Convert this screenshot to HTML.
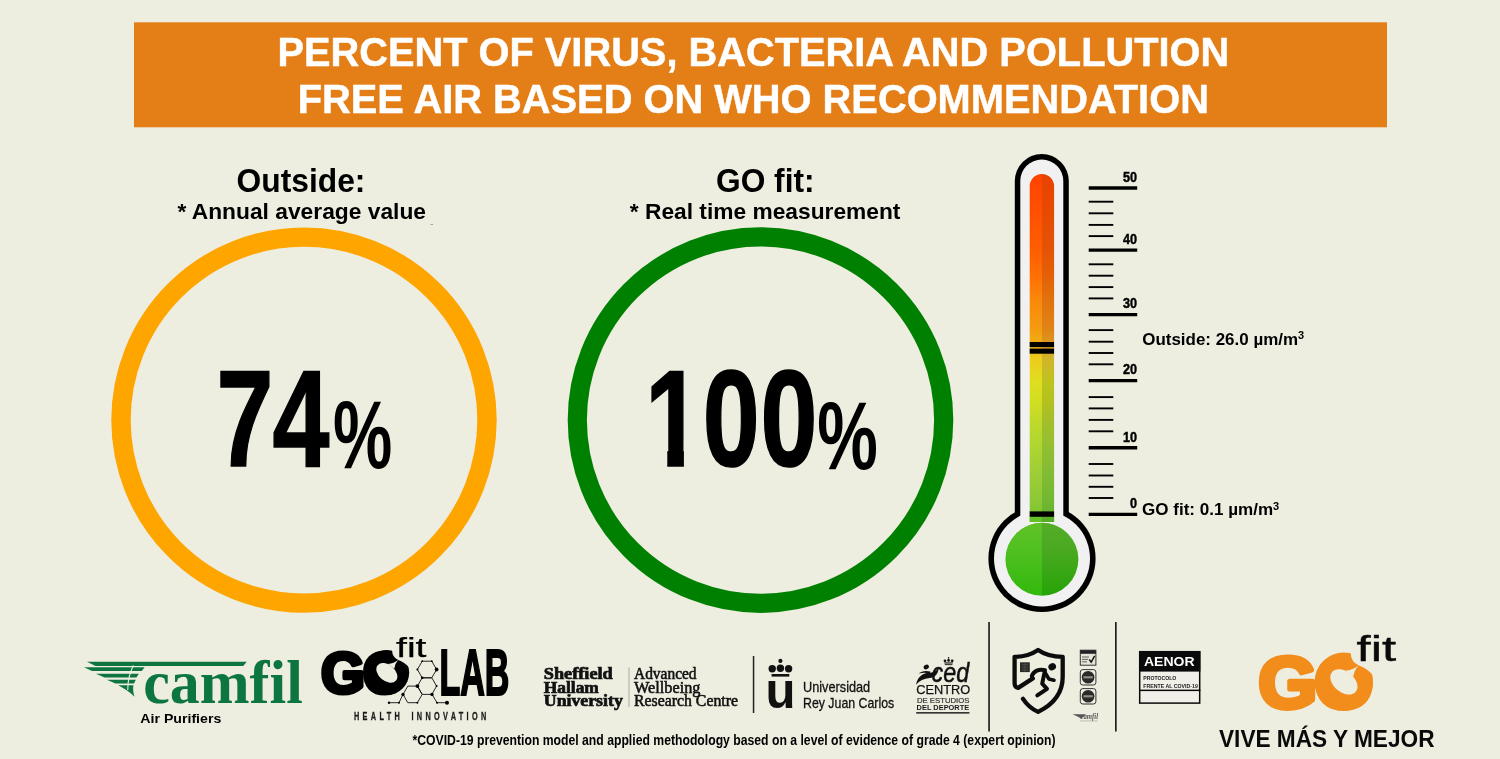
<!DOCTYPE html>
<html lang="en"><head><meta charset="utf-8"><title>Percent of virus, bacteria and pollution free air</title>
<style>
html,body{margin:0;padding:0;background:#EDEDE0;}
body{width:1500px;height:759px;overflow:hidden;font-family:"Liberation Sans",sans-serif;}
svg{display:block;}
text{font-family:"Liberation Sans",sans-serif;}
.b{font-weight:bold;}
.ser{font-family:"Liberation Serif",serif;}
</style></head><body>
<svg width="1500" height="759" viewBox="0 0 1500 759">
<rect width="1500" height="759" fill="#EDEDE0"/>
<g id="banner">
<rect x="134" y="22.3" width="1253" height="105" fill="#E47E17"/>
<text class="b" x="277.4" y="65.7" font-size="41.1" fill="#fff" stroke="#fff" stroke-width="0.5" textLength="951.8" lengthAdjust="spacingAndGlyphs">PERCENT OF VIRUS, BACTERIA AND POLLUTION</text>
<text class="b" x="297.7" y="113.3" font-size="41.1" fill="#fff" stroke="#fff" stroke-width="0.5" textLength="911.2" lengthAdjust="spacingAndGlyphs">FREE AIR BASED ON WHO RECOMMENDATION</text>
</g>
<g id="heads" fill="#000">
<rect x="430.6" y="224.2" width="2.4" height="0.8" fill="#8c8c84"/>
<text class="b" x="236.6" y="191.6" font-size="32.4" textLength="128.8" lengthAdjust="spacingAndGlyphs">Outside:</text>
<text class="b" x="177.4" y="219.4" font-size="22.4" textLength="248.6" lengthAdjust="spacingAndGlyphs">* Annual average value</text>
<text class="b" x="716" y="191.6" font-size="32.4" textLength="98.6" lengthAdjust="spacingAndGlyphs">GO fit:</text>
<text class="b" x="629.8" y="219.4" font-size="22.4" textLength="270.6" lengthAdjust="spacingAndGlyphs">* Real time measurement</text>
</g>
<g id="rings" fill="none">
<circle cx="304" cy="420.1" r="183" stroke="#FFA500" stroke-width="19.4"/>
<circle cx="760.5" cy="420.1" r="183.2" stroke="#008000" stroke-width="19.2"/>
</g>
<g id="nums" fill="#000" stroke="#000" stroke-width="1.6" stroke-linejoin="miter">
<defs><clipPath id="one"><path d="M640 350 H900 V490 H700 V440 H683.9 V490 H667.3 V440 H640 Z"/></clipPath></defs>
<text class="b" transform="translate(216.4,465.5) scale(0.745,1)" font-size="137.4" letter-spacing="-1">74</text>
<text class="b" transform="translate(333,468.4) scale(0.695,1)" font-size="96" stroke="none">%</text>
<g clip-path="url(#one)"><text class="b" transform="translate(645.1,465.5) scale(0.745,1)" font-size="137.4" letter-spacing="1">100</text></g>
<text class="b" transform="translate(817.3,468.8) scale(0.71,1)" font-size="96" stroke="none">%</text>
</g>
<g id="thermo">
<defs>
<linearGradient id="gl" x1="0" y1="174" x2="0" y2="522" gradientUnits="userSpaceOnUse">
<stop offset="0" stop-color="#FF4300"/>
<stop offset="0.22" stop-color="#FF5E00"/>
<stop offset="0.30" stop-color="#FF7203"/>
<stop offset="0.36" stop-color="#FA880A"/>
<stop offset="0.44" stop-color="#F59A10"/>
<stop offset="0.485" stop-color="#F1AC12"/>
<stop offset="0.53" stop-color="#EFCB1C"/>
<stop offset="0.60" stop-color="#DEDF1E"/>
<stop offset="0.65" stop-color="#D2DE21"/>
<stop offset="0.707" stop-color="#C0DA28"/>
<stop offset="0.764" stop-color="#B2D72F"/>
<stop offset="0.85" stop-color="#A0CE36"/>
<stop offset="0.937" stop-color="#8DC836"/>
<stop offset="1" stop-color="#78C42E"/>
</linearGradient>
<linearGradient id="gr" x1="0" y1="174" x2="0" y2="522" gradientUnits="userSpaceOnUse">
<stop offset="0" stop-color="#E94100"/>
<stop offset="0.22" stop-color="#E45405"/>
<stop offset="0.30" stop-color="#E36208"/>
<stop offset="0.36" stop-color="#E2720F"/>
<stop offset="0.44" stop-color="#E08216"/>
<stop offset="0.485" stop-color="#DE9620"/>
<stop offset="0.53" stop-color="#D2B42A"/>
<stop offset="0.60" stop-color="#BCC41E"/>
<stop offset="0.65" stop-color="#B5C11F"/>
<stop offset="0.707" stop-color="#A4BE2A"/>
<stop offset="0.764" stop-color="#98BF30"/>
<stop offset="0.85" stop-color="#84BC34"/>
<stop offset="0.937" stop-color="#72B832"/>
<stop offset="1" stop-color="#60AF2B"/>
</linearGradient>
<linearGradient id="bl" x1="0" y1="515" x2="0" y2="595" gradientUnits="userSpaceOnUse">
<stop offset="0" stop-color="#66C228"/><stop offset="0.4" stop-color="#52C022"/><stop offset="1" stop-color="#33B90D"/>
</linearGradient>
<linearGradient id="br" x1="0" y1="515" x2="0" y2="595" gradientUnits="userSpaceOnUse">
<stop offset="0" stop-color="#58AE28"/><stop offset="0.4" stop-color="#4BAA22"/><stop offset="1" stop-color="#27A308"/>
</linearGradient>
<clipPath id="fillclip"><path d="M1029.7 522 V186.1 a12.2 12.2 0 0 1 24.4 0 V522 Z"/><circle cx="1041.9" cy="559.2" r="36.5"/></clipPath>
</defs>
<path d="M1014.8 520 V181 a27 27 0 0 1 54 0 V520 Z" fill="#000"/>
<circle cx="1042" cy="558.5" r="53.6" fill="#000"/>
<path d="M1020.3 525 V181 a21.5 21.5 0 0 1 43 0 V525 Z" fill="#F1F1F1"/>
<circle cx="1042" cy="558.5" r="48" fill="#F1F1F1"/>
<g clip-path="url(#fillclip)">
<rect x="1029" y="170" width="13" height="355" fill="url(#gl)"/>
<rect x="1042" y="170" width="13" height="355" fill="url(#gr)"/>
<rect x="1000" y="517" width="42" height="80" fill="url(#bl)"/>
<rect x="1042" y="517" width="42" height="80" fill="url(#br)"/>
<rect x="1029" y="342" width="26" height="5.1" fill="#000"/>
<rect x="1029" y="348.6" width="26" height="5.1" fill="#000"/>
<rect x="1029" y="511.4" width="26" height="5.4" fill="#000"/>
</g>
<g stroke="#000" fill="none">
<line x1="1088.7" x2="1137.2" y1="188.0" y2="188.0" stroke-width="3.4"/>
<line x1="1088.7" x2="1137.2" y1="250.1" y2="250.1" stroke-width="3.4"/>
<line x1="1088.7" x2="1137.2" y1="314.6" y2="314.6" stroke-width="3.4"/>
<line x1="1088.7" x2="1137.2" y1="380.6" y2="380.6" stroke-width="3.4"/>
<line x1="1088.7" x2="1137.2" y1="447.7" y2="447.7" stroke-width="3.4"/>
<line x1="1088.7" x2="1137.2" y1="514.4" y2="514.4" stroke-width="3.4"/>
<line x1="1088.7" x2="1113.3" y1="201.7" y2="201.7" stroke-width="1.9"/>
<line x1="1088.7" x2="1113.3" y1="213.3" y2="213.3" stroke-width="1.9"/>
<line x1="1088.7" x2="1113.3" y1="224.9" y2="224.9" stroke-width="1.9"/>
<line x1="1088.7" x2="1113.3" y1="236.1" y2="236.1" stroke-width="1.9"/>
<line x1="1088.7" x2="1113.3" y1="264.3" y2="264.3" stroke-width="1.9"/>
<line x1="1088.7" x2="1113.3" y1="275.7" y2="275.7" stroke-width="1.9"/>
<line x1="1088.7" x2="1113.3" y1="287.1" y2="287.1" stroke-width="1.9"/>
<line x1="1088.7" x2="1113.3" y1="298.4" y2="298.4" stroke-width="1.9"/>
<line x1="1088.7" x2="1113.3" y1="330.1" y2="330.1" stroke-width="1.9"/>
<line x1="1088.7" x2="1113.3" y1="341.7" y2="341.7" stroke-width="1.9"/>
<line x1="1088.7" x2="1113.3" y1="353.0" y2="353.0" stroke-width="1.9"/>
<line x1="1088.7" x2="1113.3" y1="364.3" y2="364.3" stroke-width="1.9"/>
<line x1="1088.7" x2="1113.3" y1="397.1" y2="397.1" stroke-width="1.9"/>
<line x1="1088.7" x2="1113.3" y1="408.4" y2="408.4" stroke-width="1.9"/>
<line x1="1088.7" x2="1113.3" y1="419.9" y2="419.9" stroke-width="1.9"/>
<line x1="1088.7" x2="1113.3" y1="431.3" y2="431.3" stroke-width="1.9"/>
<line x1="1088.7" x2="1113.3" y1="464.0" y2="464.0" stroke-width="1.9"/>
<line x1="1088.7" x2="1113.3" y1="475.5" y2="475.5" stroke-width="1.9"/>
<line x1="1088.7" x2="1113.3" y1="486.8" y2="486.8" stroke-width="1.9"/>
<line x1="1088.7" x2="1113.3" y1="498.0" y2="498.0" stroke-width="1.9"/>
</g>
<text class="b" text-anchor="end" transform="translate(1137.1,181.8) scale(0.86,1)" font-size="14.7" stroke="#000" stroke-width="0.45">50</text>
<text class="b" text-anchor="end" transform="translate(1137.1,243.9) scale(0.86,1)" font-size="14.7" stroke="#000" stroke-width="0.45">40</text>
<text class="b" text-anchor="end" transform="translate(1137.1,308.4) scale(0.86,1)" font-size="14.7" stroke="#000" stroke-width="0.45">30</text>
<text class="b" text-anchor="end" transform="translate(1137.1,374.4) scale(0.86,1)" font-size="14.7" stroke="#000" stroke-width="0.45">20</text>
<text class="b" text-anchor="end" transform="translate(1137.1,441.5) scale(0.86,1)" font-size="14.7" stroke="#000" stroke-width="0.45">10</text>
<text class="b" text-anchor="end" transform="translate(1137.1,508.2) scale(0.86,1)" font-size="14.7" stroke="#000" stroke-width="0.45">0</text>
<text class="b" x="1142.2" y="344.8" font-size="16.2" textLength="162" lengthAdjust="spacingAndGlyphs">Outside: 26.0 µm/m<tspan font-size="10.5" dy="-5.6">3</tspan></text>
<text class="b" x="1142" y="515.2" font-size="16.2" textLength="137.2" lengthAdjust="spacingAndGlyphs">GO fit: 0.1 µm/m<tspan font-size="10.5" dy="-5.6">3</tspan></text>
</g>
<g id="camfil">
<g fill="#0D7540">
<path d="M87 661.7 H246.8 L243.2 666 H95.5 Z"/>
<path d="M84 667.2 H144.6 L141.8 670.9 H92 Z"/>
<path d="M96 673.7 H138.8 L136.4 677.4 H104.5 Z"/>
<path d="M106.8 679.7 H135.8 L134 683.4 H115.5 Z"/>
<path d="M118.2 685.2 H133.4 C132.8 689.5 133.2 693 134.6 696.8 C130.5 692.5 125 688.8 118.2 685.2 Z"/>
</g>
<path d="M133.4 665.5 C130 672 127.6 680 127.8 690" fill="none" stroke="#EDEDE0" stroke-width="1.1"/>
<text class="ser b" x="143.3" y="702.7" font-size="61" fill="#0D7540" textLength="159.5" lengthAdjust="spacingAndGlyphs">camfil</text>
<text class="b" x="140.3" y="723" font-size="13.5" fill="#000" textLength="81" lengthAdjust="spacingAndGlyphs">Air Purifiers</text>
</g>
<g id="golab" fill="#000">
<text class="b" x="321" y="693.2" font-size="56.5" stroke="#000" stroke-width="4.2" stroke-linejoin="round" letter-spacing="-2.2">GO</text>
<g transform="translate(386.7 672.6) scale(0.776) translate(-1343.7 -681.6)"><circle cx="1343.7" cy="681.6" r="29" fill="#000"/><ellipse cx="1343.9" cy="681.9" rx="15.4" ry="10.4" transform="rotate(40 1343.9 681.9)" fill="#EDEDE0"/><path d="M1345.5 670.6 Q1353 670 1358.4 665.4 Q1354 670.5 1353.4 676.5 Z" fill="#EDEDE0"/><path d="M1350.6 653 Q1351 662 1358.5 665.3 Q1366.5 668 1373 675.2 L1382 676 L1382 646 L1350 646 Z" fill="#EDEDE0"/></g>
<text x="396" y="657" font-size="27.5" textLength="30.5" lengthAdjust="spacingAndGlyphs" stroke="#000" stroke-width="0.25">fit</text>
<g fill="none" stroke="#111" stroke-width="0.9">
<polygon points="436.6,669.5 431.8,677.8 422.2,677.8 417.4,669.5 422.2,661.2 431.8,661.2"/>
<polygon points="436.6,686.1 431.8,694.4 422.2,694.4 417.4,686.1 422.2,677.8 431.8,677.8"/>
<polygon points="422.2,694.4 417.4,702.7 407.8,702.7 403.0,694.4 407.8,686.1 417.4,686.1"/>
<path d="M389 702.7 H399 L403 694.4"/>
<path d="M432 694.4 L437 702.7 H447"/>
</g>
<circle cx="436.6" cy="669.5" r="1.9"/>
<circle cx="417.4" cy="669.5" r="1.0"/>
<circle cx="422.2" cy="661.2" r="0.9"/>
<circle cx="431.8" cy="661.2" r="0.9"/>
<circle cx="422.2" cy="677.8" r="1.3"/>
<circle cx="417.4" cy="686.1" r="1.9"/>
<circle cx="403.0" cy="694.4" r="1.7"/>
<circle cx="432.0" cy="694.4" r="1.7"/>
<circle cx="436.6" cy="686.1" r="1.0"/>
<circle cx="389.0" cy="702.7" r="1.2"/>
<circle cx="399.0" cy="702.7" r="1.0"/>
<circle cx="417.4" cy="702.7" r="1.0"/>
<circle cx="437.0" cy="702.7" r="1.0"/>
<circle cx="447.0" cy="702.7" r="2.0"/>
<text class="b" transform="translate(439.4,694.5) scale(0.528,1)" font-size="64.5" stroke="#000" stroke-width="1.7" style="vector-effect:non-scaling-stroke">LAB</text>
<text class="b" transform="translate(354,720.3) scale(0.62,1)" font-size="11.8" letter-spacing="5.4" word-spacing="4.6" fill="#1a1a1a" stroke="#1a1a1a" stroke-width="0.3">HEALTH INNOVATION</text>
</g>
<g id="shu" fill="#111">
<g class="ser b" font-size="16.6" stroke="#111" stroke-width="0.7">
<text class="ser b" x="543.8" y="679.1" textLength="69" lengthAdjust="spacingAndGlyphs">Sheffield</text>
<text class="ser b" x="543.8" y="692.6" textLength="55" lengthAdjust="spacingAndGlyphs">Hallam</text>
<text class="ser b" x="543.8" y="706" textLength="79" lengthAdjust="spacingAndGlyphs">University</text>
</g>
<rect x="628.5" y="667.5" width="1" height="39.5" fill="#A9A9A0"/>
<g class="ser" font-size="16.2" stroke="#111" stroke-width="0.55">
<text class="ser" x="634" y="679.1" textLength="62.6" lengthAdjust="spacingAndGlyphs">Advanced</text>
<text class="ser" x="634" y="692.6" textLength="66.4" lengthAdjust="spacingAndGlyphs">Wellbeing</text>
<text class="ser" x="634" y="706" textLength="104" lengthAdjust="spacingAndGlyphs">Research Centre</text>
</g>
</g>
<g id="urjc" fill="#111">
<rect x="752.8" y="656" width="1.5" height="57" fill="#222"/>
<circle cx="780.4" cy="660.9" r="2.1"/>
<circle cx="772.2" cy="668.8" r="3.7"/><circle cx="780.4" cy="668.3" r="3.7"/><circle cx="788.6" cy="668.8" r="3.7"/>
<rect x="771.6" y="674" width="17.7" height="2.6"/>
<text class="b" x="765.6" y="708" font-size="50" textLength="30" lengthAdjust="spacingAndGlyphs">u</text>
<text x="803" y="691.5" font-size="14.8" stroke="#111" stroke-width="0.3" textLength="67.2" lengthAdjust="spacingAndGlyphs">Universidad</text>
<text x="803" y="707.5" font-size="14.8" stroke="#111" stroke-width="0.3" textLength="91.2" lengthAdjust="spacingAndGlyphs">Rey Juan Carlos</text>
</g>
<g id="ced" fill="#111">
<circle cx="948.6" cy="657.9" r="0.8"/><circle cx="945" cy="660.8" r="1.4"/><circle cx="948.6" cy="660.4" r="1.4"/><circle cx="952.2" cy="660.8" r="1.4"/><rect x="944.4" y="662.4" width="8.4" height="1.1"/><rect x="944.8" y="664.2" width="7.6" height="0.9"/>
<ellipse cx="926.3" cy="667" rx="2.7" ry="2.2" transform="rotate(-25 926.3 667)"/>
<path d="M916 684.8 C917.5 677.5 922 673.2 929 672.8 C933.5 672.6 936.5 671 938.6 668 C938.4 673.8 935 677.6 929.6 678 C923.8 678.5 919.6 680.8 916 684.8 Z"/>
<path d="M918.6 673.6 C921.6 671 925.6 670.4 930.4 671.6 L929.8 673.4 C925.6 672.4 922 672.6 918.6 673.6 Z"/>
<text font-style="italic" x="931.6" y="682.4" font-size="27" textLength="37.5" lengthAdjust="spacingAndGlyphs" stroke="#111" stroke-width="0.5">ced</text>
<text x="916.2" y="694.3" font-size="13.6" stroke="#111" stroke-width="0.25" textLength="54" lengthAdjust="spacingAndGlyphs">CENTRO</text>
<text x="916.9" y="702.7" font-size="7.9" fill="#333" stroke="#333" stroke-width="0.2" textLength="52.6" lengthAdjust="spacingAndGlyphs">DE ESTUDIOS</text>
<text class="b" x="916.6" y="710.1" font-size="7.5" fill="#1a1a1a" textLength="52.6" lengthAdjust="spacingAndGlyphs">DEL DEPORTE</text>
<rect x="916.2" y="712.1" width="53.2" height="1.5" fill="#222"/>
</g>
<g id="seals">
<rect x="988.2" y="622" width="1.7" height="109.5" fill="#222"/>
<rect x="1115" y="622" width="1.7" height="109.5" fill="#222"/>
<g fill="none" stroke="#0c0c0c" stroke-width="4.3" stroke-linecap="round" stroke-linejoin="round">
<path d="M1023 698.8 C1027 705 1032 709 1038.1 711.9 C1052 705 1062.7 694 1062.7 677 V656.8 C1053 656.8 1045 654.8 1038.1 650 C1031 654.8 1024 656.8 1014.6 656.8 V683.5 Q1014.8 687.4 1018.2 687.9 L1032.8 678.4"/>
<path d="M1031.8 676.2 C1033.5 671 1039 668.6 1045 670.2 L1042.2 683.6 L1047 688.8 L1037.3 695.3" stroke-width="4"/>
<path d="M1045 672.5 L1048.8 678.9 L1054 680.2" stroke-width="3.6"/>
</g>
<ellipse cx="1052.2" cy="666.8" rx="3.9" ry="3.5" transform="rotate(-30 1052.2 666.8)" fill="#0c0c0c"/>
<rect x="1020" y="662.3" width="9.8" height="9.8" fill="#2b2b28"/>
<path d="M1022 664.5h6M1022 667.2h6M1022 669.9h6M1024.9 662.5v9.4" stroke="#5a5a55" stroke-width="0.6" fill="none"/>
<g fill="none" stroke="#333" stroke-width="1">
<rect x="1080.3" y="650.2" width="15.6" height="15" fill="#E4E4D8"/>
<rect x="1080.3" y="669.6" width="15.6" height="15.4" rx="2.5"/>
<rect x="1080.3" y="688.6" width="15.6" height="15.4" rx="2.5"/>
</g>
<rect x="1080.3" y="650.2" width="15.6" height="3.6" fill="#222"/>
<path d="M1082 657h7M1082 659.4h6M1082 661.8h5" stroke="#555" stroke-width="0.9" fill="none"/>
<path d="M1089.2 659.5 l2 2.6 l3.4 -6.2" stroke="#111" stroke-width="1.4" fill="none"/>
<circle cx="1088.1" cy="677.3" r="6.3" fill="#2a2a28"/><circle cx="1088.1" cy="696.3" r="6.3" fill="#2a2a28"/>
<rect x="1083.4" y="676.2" width="9.4" height="2.2" fill="#8d8d86"/><rect x="1083.4" y="695.2" width="9.4" height="2.2" fill="#8d8d86"/>
<path d="M1072.5 714.3 H1086 L1081 718.8 C1078.5 716.8 1075.5 715.4 1072.5 714.3 Z" fill="#555"/>
<text class="ser b" font-style="italic" x="1080.5" y="719.3" font-size="7.8" fill="#555" textLength="17.5" lengthAdjust="spacingAndGlyphs">camfil</text>
<rect x="1080" y="720.6" width="17.5" height="0.7" fill="#aaa"/>
</g>
<g id="aenor">
<rect x="1139.7" y="651.7" width="60" height="51.4" fill="#F0F0E8" stroke="#0a0a0a" stroke-width="1.5"/>
<rect x="1139" y="651" width="61.4" height="20.6" fill="#0a0a0a"/>
<rect x="1139" y="689.6" width="61.4" height="1.5" fill="#0a0a0a"/>
<text class="b" x="1144" y="666.4" font-size="13.6" fill="#fff" textLength="50.6" lengthAdjust="spacingAndGlyphs">AENOR</text>
<text class="b" x="1143.3" y="680" font-size="6.2" fill="#222" textLength="33" lengthAdjust="spacingAndGlyphs">PROTOCOLO</text>
<text class="b" x="1143.3" y="687.7" font-size="6.2" fill="#222" textLength="54.6" lengthAdjust="spacingAndGlyphs">FRENTE AL COVID-19</text>
</g>
<g id="gofit">
<text class="b" transform="translate(1258.2,707.6) scale(1.04,1)" font-size="73" fill="#F28D1C" stroke="#F28D1C" stroke-width="5" stroke-linejoin="round" letter-spacing="-2.6">GO</text>
<g><circle cx="1343.7" cy="681.6" r="29" fill="#F28D1C"/><ellipse cx="1343.9" cy="681.9" rx="15.4" ry="10.4" transform="rotate(40 1343.9 681.9)" fill="#EDEDE0"/><path d="M1345.5 670.6 Q1353 670 1358.4 665.4 Q1354 670.5 1353.4 676.5 Z" fill="#EDEDE0"/><path d="M1350.6 653 Q1351 662 1358.5 665.3 Q1366.5 668 1373 675.2 L1382 676 L1382 646 L1350 646 Z" fill="#EDEDE0"/></g>
<text x="1356.6" y="661.2" font-size="34.5" fill="#0a0a0a" stroke="#0a0a0a" stroke-width="0.4" textLength="39.6" lengthAdjust="spacingAndGlyphs">fit</text>
<text class="b" x="1219" y="747.3" font-size="24" fill="#0a0a0a" textLength="215.5" lengthAdjust="spacingAndGlyphs">VIVE MÁS Y MEJOR</text>
</g>
<text class="b" x="412.5" y="745" font-size="13.8" textLength="643" lengthAdjust="spacingAndGlyphs">*COVID-19 prevention model and applied methodology based on a level of evidence of grade 4 (expert opinion)</text>
</svg>
</body></html>
